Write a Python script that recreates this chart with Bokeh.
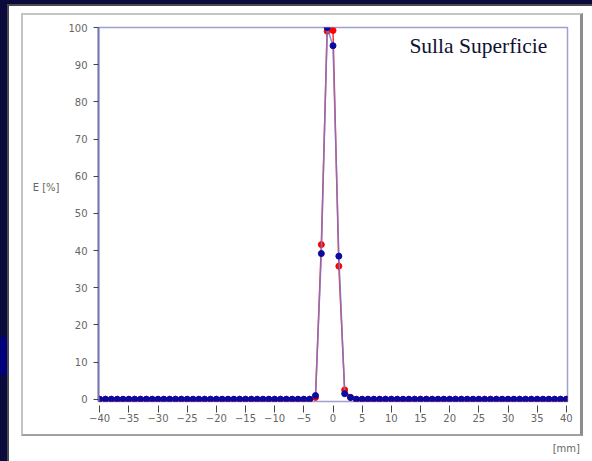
from bokeh.plotting import figure
from bokeh.models import Range1d, FixedTicker, Label, LinearAxis, InlineStyleSheet
from bokeh.embed import file_html
from bokeh.resources import INLINE

# Position along the surface [mm]
x_mm = [-40, -39, -38, -37, -36, -35, -34, -33, -32, -31,
        -30, -29, -28, -27, -26, -25, -24, -23, -22, -21,
        -20, -19, -18, -17, -16, -15, -14, -13, -12, -11,
        -10, -9, -8, -7, -6, -5, -4, -3, -2, -1,
        0, 1, 2, 3, 4, 5, 6, 7, 8, 9,
        10, 11, 12, 13, 14, 15, 16, 17, 18, 19,
        20, 21, 22, 23, 24, 25, 26, 27, 28, 29,
        30, 31, 32, 33, 34, 35, 36, 37, 38, 39, 40]

# E [%] - red series
red_vals = [0, 0, 0, 0, 0, 0, 0, 0, 0, 0,
            0, 0, 0, 0, 0, 0, 0, 0, 0, 0,
            0, 0, 0, 0, 0, 0, 0, 0, 0, 0,
            0, 0, 0, 0, 0, 0, 0, 0.5, 41.6, 99,
            99.2, 35.8, 2.5, 0.5, 0, 0, 0, 0, 0, 0,
            0, 0, 0, 0, 0, 0, 0, 0, 0, 0,
            0, 0, 0, 0, 0, 0, 0, 0, 0, 0,
            0, 0, 0, 0, 0, 0, 0, 0, 0, 0, 0]

# E [%] - blue series
blue_vals = [0, 0, 0, 0, 0, 0, 0, 0, 0, 0,
             0, 0, 0, 0, 0, 0, 0, 0, 0, 0,
             0, 0, 0, 0, 0, 0, 0, 0, 0, 0,
             0, 0, 0, 0, 0, 0, 0, 1.0, 39.2, 100,
             95.1, 38.5, 1.5, 0.5, 0, 0, 0, 0, 0, 0,
             0, 0, 0, 0, 0, 0, 0, 0, 0, 0,
             0, 0, 0, 0, 0, 0, 0, 0, 0, 0,
             0, 0, 0, 0, 0, 0, 0, 0, 0, 0, 0]

x_ticks = [-40, -35, -30, -25, -20, -15, -10, -5, 0, 5, 10, 15, 20, 25, 30, 35, 40]
y_ticks = [0, 10, 20, 30, 40, 50, 60, 70, 80, 90, 100]

# slide decoration: dark background strips and the grey inner frame of the panel
frame_css = """
:host::before {
  content: ""; position: absolute; left: 0; top: 0; width: 592px; height: 461px;
  pointer-events: none; z-index: 100;
  background-image: linear-gradient(#00007a,#00007a), linear-gradient(#0a0a3c,#0a0a3c),
                    linear-gradient(#0a0a3c,#0a0a3c), linear-gradient(#4a4a4a,#4a4a4a),
                    linear-gradient(#4a4a4a,#4a4a4a);
  background-size: 7px 38px, 7px 100%, 100% 4px, 2px 100%, 100% 2px;
  background-position: 0 337px, 0 0, 0 0, 7px 4px, 7px 4px;
  background-repeat: no-repeat;
}
:host::after {
  content: ""; position: absolute; left: 21px; top: 13px; width: 562px; height: 423px;
  box-sizing: border-box; pointer-events: none; z-index: 100;
  border-left: 2px solid #c4c4c4; border-top: 2px solid #c4c4c4;
  border-right: 3px solid #8c8c8c; border-bottom: 2px solid #a0a0a0;
}
"""

p = figure(width=592, height=461, output_backend="svg", toolbar_location=None,
           x_range=Range1d(-40.2, 40.2), y_range=Range1d(-0.6, 100),
           min_border_left=98, min_border_right=25, min_border_top=27, min_border_bottom=60,
           stylesheets=[InlineStyleSheet(css=frame_css)])

p.background_fill_color = "white"
p.border_fill_color = "white"
p.outline_line_color = "#a0a0d0"
p.outline_line_width = 1.5
p.xgrid.grid_line_color = None
p.ygrid.grid_line_color = None

tick_font = "DejaVu Sans"

p.xaxis.ticker = FixedTicker(ticks=x_ticks)
p.xaxis.axis_line_color = None
p.xaxis.major_tick_in = -4
p.xaxis.major_tick_out = 11
p.xaxis.major_tick_line_color = "#444444"
p.xaxis.minor_tick_line_color = None
p.xaxis.major_label_standoff = 1
p.xaxis.major_label_text_font = tick_font
p.xaxis.major_label_text_font_size = "10px"
p.xaxis.major_label_text_color = "#666666"

p.yaxis.ticker = FixedTicker(ticks=y_ticks)
p.yaxis.axis_line_color = "#7878b0"
p.yaxis.axis_line_width = 2
p.yaxis.major_tick_in = 0
p.yaxis.major_tick_out = 5
p.yaxis.major_tick_line_color = "#444444"
p.yaxis.minor_tick_line_color = None
p.yaxis.major_label_standoff = 6
p.yaxis.major_label_text_font = tick_font
p.yaxis.major_label_text_font_size = "10px"
p.yaxis.major_label_text_color = "#666666"

# axis titles, placed like the reference ("E [%]" at left, "[mm]" under the right end)
y_title_axis = LinearAxis(ticker=FixedTicker(ticks=[57]),
                          major_label_overrides={57: "E [%]", "57": "E [%]"},
                          axis_line_color=None, major_tick_line_color=None,
                          minor_tick_line_color=None, major_tick_in=0, major_tick_out=0,
                          major_label_standoff=6, major_label_text_font=tick_font,
                          major_label_text_font_size="10px", major_label_text_color="#666666")
p.add_layout(y_title_axis, "left")

x_title_axis = LinearAxis(ticker=FixedTicker(ticks=[40]),
                          major_label_overrides={40: "[mm]", "40": "[mm]"},
                          axis_line_color=None, major_tick_line_color=None,
                          minor_tick_line_color=None, major_tick_in=0, major_tick_out=0,
                          major_label_standoff=18, major_label_text_font=tick_font,
                          major_label_text_font_size="10px", major_label_text_color="#666666")
p.add_layout(x_title_axis, "below")

p.line(x_mm, red_vals, line_color="#ff3030", line_width=1.5)
p.scatter(x_mm, red_vals, size=6, fill_color="#ff0000", line_color="#ff0000")
p.line(x_mm, blue_vals, line_color="#7878cc", line_width=1.5, line_alpha=0.85)
p.scatter(x_mm, blue_vals, size=6, fill_color="#0a0aa0", line_color="#0a0aa0")

p.add_layout(Label(x=13.1, y=94.9, text="Sulla Superficie", text_font="Liberation Serif",
                   text_font_size="21.5px", text_color="#111133", text_baseline="alphabetic"))

open("out.html", "w").write(file_html(p, INLINE))
